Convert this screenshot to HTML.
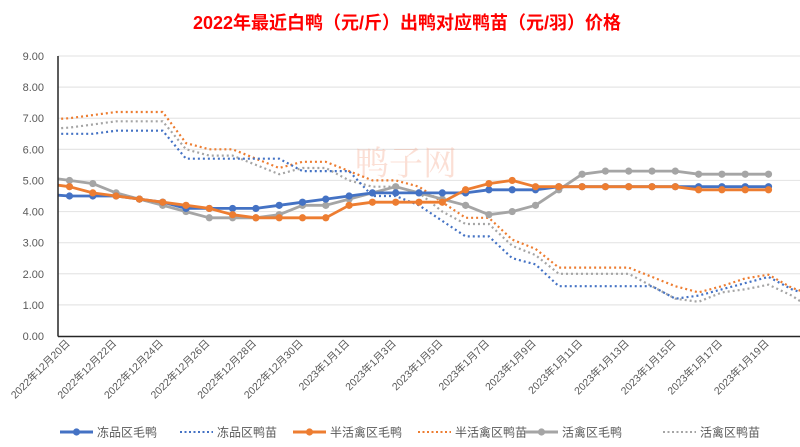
<!DOCTYPE html>
<html><head><meta charset="utf-8"><style>
html,body{margin:0;padding:0;background:#fff;}
svg{display:block;font-family:"Liberation Sans","Noto Sans CJK SC",sans-serif;}
</style></head><body>
<svg id="c" width="800" height="447" viewBox="0 0 800 447" xmlns="http://www.w3.org/2000/svg">
<text x="407" y="29" text-anchor="middle" font-size="18" font-weight="bold" fill="#ff0000">2022年最近白鸭（元/斤）出鸭对应鸭苗（元/羽）价格</text>
<g id="grid"></g>
<g id="wm" opacity="0.35">
<text x="355" y="175" font-size="34" fill="#f4a58a" font-family="Noto Serif CJK SC, serif">鸭子网</text>
</g>
<defs><clipPath id="pc"><rect x="58" y="40" width="742" height="300"/></clipPath></defs>
<g id="series" clip-path="url(#pc)"></g>
<line x1="58" y1="56" x2="58" y2="336.5" stroke="#262626" stroke-width="1.5"/>
<line x1="58" y1="336.5" x2="800" y2="336.5" stroke="#262626" stroke-width="1.5"/>
<g id="labels" font-size="10.5" fill="#595959"></g>
<g id="legend" font-size="12" fill="#595959"></g>
</svg>
<script>
var NS="http://www.w3.org/2000/svg";
function el(t,a,p,txt){var e=document.createElementNS(NS,t);for(var k in a)e.setAttribute(k,a[k]);if(txt)e.textContent=txt;p.appendChild(e);return e;}
function Y(v){return 336-31.11*v;}
function X(k){return 46.2+23.3*k;}
var g=document.getElementById('grid');
for(var i=0;i<=9;i++){var y=Y(i);
 if(i>0)el('line',{x1:58,x2:800,y1:y,y2:y,stroke:'#e6e6e6','stroke-width':1.2},g);
 el('text',{x:44,y:y+4,'text-anchor':'end','font-size':11,fill:'#595959'},g,i.toFixed(2));}
var S=document.getElementById('series');
var bd=[6.5,6.5,6.5,6.6,6.6,6.6,5.7,5.7,5.7,5.7,5.7,5.3,5.3,5.3,4.5,4.5,4.2,3.7,3.2,3.2,2.5,2.3,1.6,1.6,1.6,1.6,1.6,1.2,1.3,1.5,1.7,1.9,1.5,1.25];
var od=[6.95,7.0,7.1,7.2,7.2,7.2,6.2,6.0,6.0,5.7,5.4,5.6,5.6,5.3,5.0,5.0,4.8,4.3,3.8,3.8,3.1,2.8,2.2,2.2,2.2,2.2,1.9,1.6,1.4,1.6,1.85,1.97,1.55,1.3];
var gd=[6.65,6.7,6.8,6.9,6.9,6.9,6.0,5.8,5.8,5.5,5.2,5.4,5.4,5.0,4.8,4.8,4.6,4.0,3.6,3.6,2.9,2.6,2.0,2.0,2.0,2.0,1.6,1.2,1.1,1.4,1.5,1.65,1.3,0.8];
var bs=[4.55,4.5,4.5,4.5,4.4,4.3,4.1,4.1,4.1,4.1,4.2,4.3,4.4,4.5,4.6,4.6,4.6,4.6,4.6,4.7,4.7,4.7,4.8,4.8,4.8,4.8,4.8,4.8,4.8,4.8,4.8,4.8];
var os=[4.9,4.8,4.6,4.5,4.4,4.3,4.2,4.1,3.9,3.8,3.8,3.8,3.8,4.2,4.3,4.3,4.3,4.3,4.7,4.9,5.0,4.8,4.8,4.8,4.8,4.8,4.8,4.8,4.7,4.7,4.7,4.7];
var gs=[5.1,5.0,4.9,4.6,4.4,4.2,4.0,3.8,3.8,3.8,3.9,4.2,4.2,4.4,4.6,4.8,4.6,4.4,4.2,3.9,4.0,4.2,4.7,5.2,5.3,5.3,5.3,5.3,5.2,5.2,5.2,5.2];
function pts(a){return a.map(function(v,k){return X(k).toFixed(1)+','+Y(v).toFixed(1);}).join(' ');}
function dotted(a,c){el('polyline',{points:pts(a),fill:'none',stroke:c,'stroke-width':2.2,'stroke-dasharray':'2 3','stroke-linecap':'butt'},S);}
function solid(a,c){el('polyline',{points:pts(a),fill:'none',stroke:c,'stroke-width':2.8,'stroke-linejoin':'round'},S);
 for(var k=1;k<a.length;k++)el('circle',{cx:X(k),cy:Y(a[k]),r:3.6,fill:c},S);}
dotted(gd,'#a5a5a5');dotted(od,'#ed7d31');dotted(bd,'#4472c4');
solid(gs,'#a5a5a5');solid(bs,'#4472c4');solid(os,'#ed7d31');
var L=document.getElementById('labels');
var names=[];
for(var d=20;d<=30;d+=2)names.push('2022年12月'+d+'日');
for(var d=1;d<=19;d+=2)names.push('2023年1月'+d+'日');
names.forEach(function(n,i){var x=X(1+2*i)+1,y=344;
 el('text',{x:x,y:y,'text-anchor':'end',transform:'rotate(-45 '+x+' '+y+')'},L,n);});
var G=document.getElementById('legend');
var lg=[['冻品区毛鸭','#4472c4',0,60],['冻品区鸭苗','#4472c4',1,180],['半活禽区毛鸭','#ed7d31',0,293],['半活禽区鸭苗','#ed7d31',1,418],['活禽区毛鸭','#a5a5a5',0,525],['活禽区鸭苗','#a5a5a5',1,663]];
lg.forEach(function(l){var x=l[3],y=432;
 if(l[2]){el('line',{x1:x,x2:x+33,y1:y,y2:y,stroke:l[1],'stroke-width':2,'stroke-dasharray':'2 2.5'},G);}
 else{el('line',{x1:x,x2:x+33,y1:y,y2:y,stroke:l[1],'stroke-width':3},G);el('circle',{cx:x+16.5,cy:y,r:3.6,fill:l[1]},G);}
 el('text',{x:x+37,y:y+4.5},G,l[0]);});
</script>
</body></html>
